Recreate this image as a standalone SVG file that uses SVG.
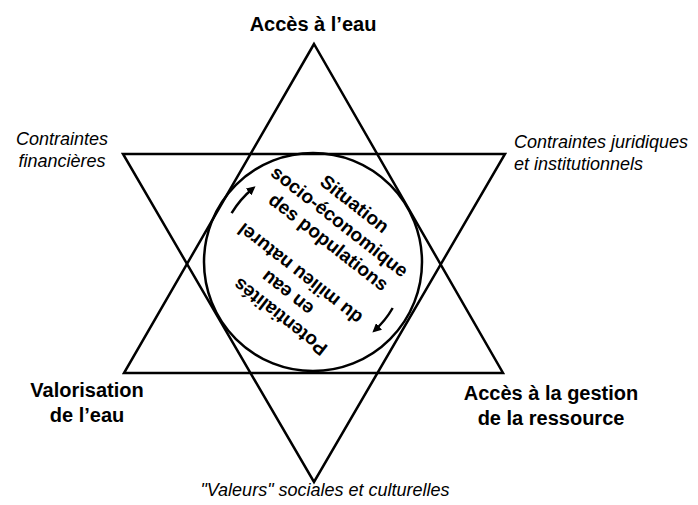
<svg xmlns="http://www.w3.org/2000/svg" width="698" height="505" viewBox="0 0 698 505">
  <style>
    .shape { fill: none; stroke: #000; stroke-width: 2.5; stroke-linejoin: miter; }
    .arc { fill: none; stroke: #000; stroke-width: 2.5; }
    .lbl { font-family: "Liberation Sans", Arial, sans-serif; font-weight: bold; font-size: 20px; fill: #000; text-anchor: middle; }
    .ital { font-family: "Liberation Sans", Arial, sans-serif; font-style: italic; font-size: 18px; fill: #000; }
    .inner { font-family: "Liberation Sans", Arial, sans-serif; font-weight: bold; font-size: 19px; fill: #000; text-anchor: middle; }
  </style>
  <defs>
    <marker id="ah" markerUnits="userSpaceOnUse" markerWidth="10" markerHeight="9" refX="6" refY="4.5" orient="auto">
      <path d="M0,0 L9,4.5 L0,9 z" fill="#000"/>
    </marker>
  </defs>
  <rect width="698" height="505" fill="#fff"/>
  <g id="star">
    <polygon id="triangle-up" class="shape" points="314,44 124,373 503,373"/>
    <polygon id="triangle-down" class="shape" points="123,154 505,154 314,482"/>
  </g>
  <g id="centre">
    <circle class="shape" cx="313" cy="262" r="109"/>
    <g transform="translate(313,262) rotate(38)">
      <text class="inner" x="-3" y="-65">Situation</text>
      <text class="inner" x="-4" y="-42">socio-économique</text>
      <text class="inner" x="0" y="-19">des populations</text>
    </g>
    <g transform="translate(313,262) rotate(218)">
      <text class="inner" x="-8" y="-57">Potentialités</text>
      <text class="inner" x="1" y="-34">en eau</text>
      <text class="inner" x="3" y="-11">du milieu naturel</text>
    </g>
  </g>
  <g id="connectors">
    <path class="arc" d="M231.6,213.1 A95,95 0 0 1 253.2,188.2" marker-end="url(#ah)"/>
    <path class="arc" d="M392.7,308 A92,92 0 0 1 374.6,330.4" marker-end="url(#ah)"/>
  </g>
  <g id="node-acces-eau">
    <text class="lbl" x="313" y="31">Accès à l’eau</text>
  </g>
  <g id="node-valorisation">
    <text class="lbl" x="87" y="397">Valorisation</text>
    <text class="lbl" x="87" y="422">de l’eau</text>
  </g>
  <g id="node-gestion">
    <text class="lbl" x="551" y="400">Accès à la gestion</text>
    <text class="lbl" x="551" y="425">de la ressource</text>
  </g>
  <g id="node-financieres">
    <text class="ital" x="62" y="145" text-anchor="middle">Contraintes</text>
    <text class="ital" x="62" y="167" text-anchor="middle">financières</text>
  </g>
  <g id="node-juridiques">
    <text class="ital" x="514" y="148">Contraintes juridiques</text>
    <text class="ital" x="514" y="170">et institutionnels</text>
  </g>
  <g id="node-valeurs">
    <text class="ital" x="325" y="496" text-anchor="middle">"Valeurs" sociales et culturelles</text>
  </g>
</svg>
